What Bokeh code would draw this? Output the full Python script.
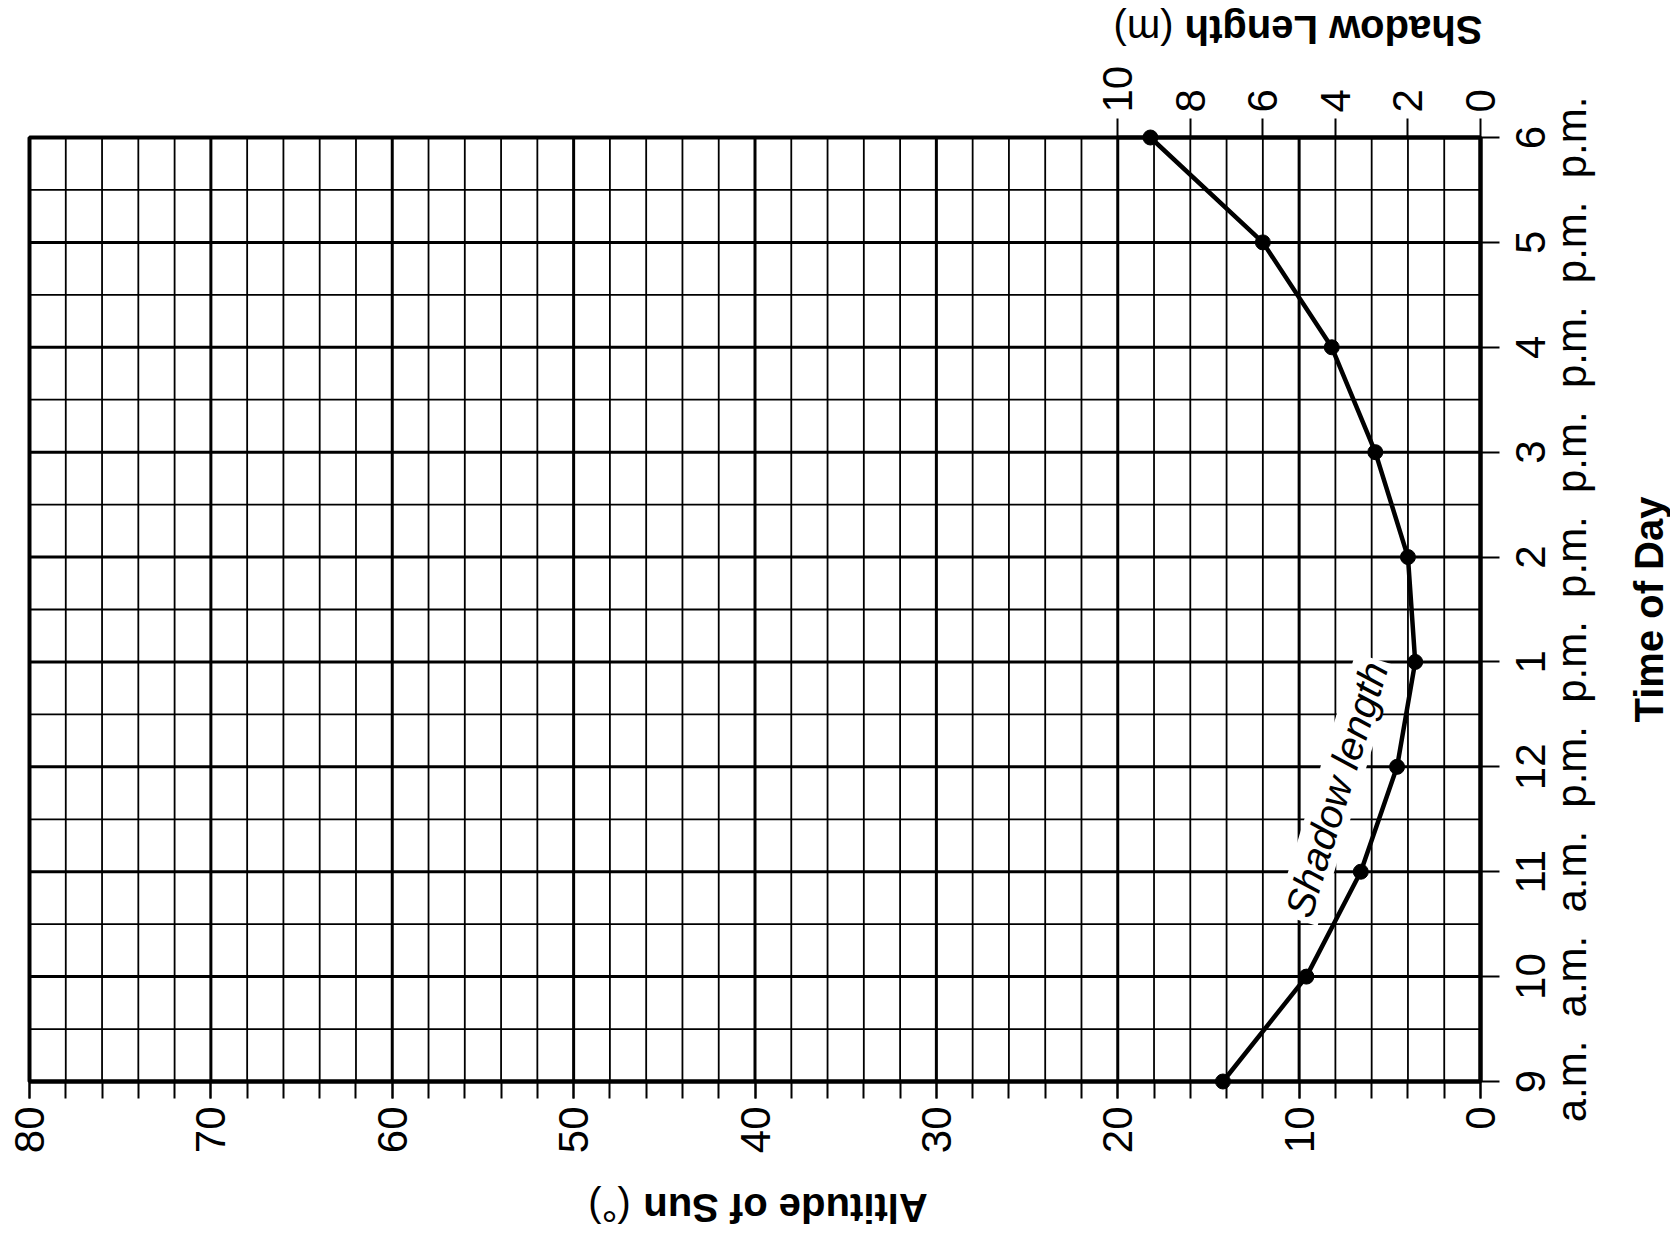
import math
from bokeh.plotting import figure
from bokeh.models import Range1d, LinearAxis, FixedTicker
from bokeh.core.properties import value
from bokeh.embed import file_html
from bokeh.resources import INLINE

# ---------------- data ----------------
hours = [9, 10, 11, 12, 13, 14, 15, 16, 17, 18]
hour_numbers = ["9", "10", "11", "12", "1", "2", "3", "4", "5", "6"]
hour_periods = ["a.m.", "a.m.", "a.m.", "p.m.", "p.m.", "p.m.", "p.m.", "p.m.", "p.m.", "p.m."]
shadow_length = [7.1, 4.8, 3.3, 2.3, 1.8, 2.0, 2.9, 4.1, 6.0, 9.1]
altitude_ticks = [0, 10, 20, 30, 40, 50, 60, 70, 80]
shadow_ticks = [0, 2, 4, 6, 8, 10]

# ---------------- layout constants (pixels) ----------------
FONT = "Liberation Sans"
TICK_FS = "42px"
TITLE_FS = "40px"
W, H = 1670, 1234
LEFT, TOP = 29, 137          # top-left corner of the chart grid
FW, FH = 1451, 944           # grid size
M_PER_DEG = 0.5              # shadow-length scale: 1 m per 2 degrees

A0, A1 = altitude_ticks[0], altitude_ticks[-1]
SX = FW / (A1 - A0)
SY = FH / (hours[-1] - hours[0])


def alt_at(px):
    return A1 - (px - LEFT) / SX


def hour_at(py):
    return hours[-1] - (py - TOP) / SY


p = figure(width=W, height=H,
           x_range=Range1d(alt_at(0), alt_at(W)),
           y_range=Range1d(hour_at(H), hour_at(0)),
           x_axis_location=None, y_axis_location=None, min_border=0,
           output_backend="svg", toolbar_location=None,
           background_fill_color="white", border_fill_color="white")
p.title.visible = False
p.outline_line_color = None
p.grid.visible = False
p.extra_x_ranges = {"shadow": Range1d(alt_at(0) * M_PER_DEG, alt_at(W) * M_PER_DEG)}

# ---------------- grid ----------------
alt_grid = list(range(A0, A1 + 1, 2))
alt_major = [a for a in alt_grid if a in altitude_ticks]
alt_minor = [a for a in alt_grid if a not in altitude_ticks]
hour_grid = [hours[0] + 0.5 * k for k in range(2 * (len(hours) - 1) + 1)]
hour_major = [h for h in hour_grid if h in hours]
hour_minor = [h for h in hour_grid if h not in hours]

p.segment(x0=alt_minor, y0=[hours[0]] * len(alt_minor), x1=alt_minor, y1=[hours[-1]] * len(alt_minor),
          line_color="black", line_width=1.8)
p.segment(x0=[A0] * len(hour_minor), y0=hour_minor, x1=[A1] * len(hour_minor), y1=hour_minor,
          line_color="black", line_width=1.8)
p.segment(x0=alt_major, y0=[hours[0]] * len(alt_major), x1=alt_major, y1=[hours[-1]] * len(alt_major),
          line_color="black", line_width=3)
p.segment(x0=[A0] * len(hour_major), y0=hour_major, x1=[A1] * len(hour_major), y1=hour_major,
          line_color="black", line_width=3)
p.quad(left=[A0], right=[A1], bottom=[hours[0]], top=[hours[-1]],
       fill_color=None, line_color="black", line_width=4)

# ---------------- axes ----------------
xa = LinearAxis(fixed_location=hours[0], bounds=(A0, A1),
                ticker=FixedTicker(ticks=altitude_ticks, minor_ticks=alt_grid))
xa.axis_line_width = 4
xa.major_tick_in = 0
xa.major_tick_out = 17
xa.minor_tick_in = 0
xa.minor_tick_out = 17
xa.major_tick_line_width = 2
xa.minor_tick_line_width = 2
xa.major_label_orientation = math.pi / 2
xa.major_label_standoff = 8
xa.major_label_text_font = FONT
xa.major_label_text_font_size = TICK_FS
xa.major_label_text_color = "black"
p.add_layout(xa, "below")

ta = LinearAxis(x_range_name="shadow", fixed_location=hours[-1],
                bounds=(shadow_ticks[0], shadow_ticks[-1]),
                ticker=FixedTicker(ticks=shadow_ticks, minor_ticks=[]))
ta.axis_line_width = 4
ta.major_tick_in = 0
ta.major_tick_out = 19
ta.minor_tick_in = 0
ta.minor_tick_out = 0
ta.major_tick_line_width = 2
ta.major_label_orientation = math.pi / 2
ta.major_label_standoff = 6
ta.major_label_text_font = FONT
ta.major_label_text_font_size = TICK_FS
ta.major_label_text_color = "black"
p.add_layout(ta, "above")

ya = LinearAxis(fixed_location=A0, bounds=(hours[0], hours[-1]),
                ticker=FixedTicker(ticks=hours, minor_ticks=[]),
                major_label_overrides={h: "" for h in hours})
ya.axis_line_width = 4
ya.major_tick_in = 0
ya.major_tick_out = 19
ya.minor_tick_in = 0
ya.minor_tick_out = 0
ya.major_tick_line_width = 2
ya.major_label_text_font_size = TICK_FS
p.add_layout(ya, "right")

# time-of-day tick labels (two centred lines per tick, rotated like the chart)
p.text(x=[alt_at(1530)] * len(hours), y=hours, text=hour_numbers, angle=math.pi / 2,
       text_font=value(FONT), text_font_size=TICK_FS, text_color="black",
       text_align="center", text_baseline="middle")
p.text(x=[alt_at(1571)] * len(hours), y=hours, text=hour_periods, angle=math.pi / 2,
       text_font=value(FONT), text_font_size=TICK_FS, text_color="black",
       text_align="center", text_baseline="middle")


# ---------------- titles ----------------
def txt(px, py, s, angle, style, size=TITLE_FS):
    p.text(x=[alt_at(px)], y=[hour_at(py)], text=[s], angle=angle,
           text_font=value(FONT), text_font_size=size, text_font_style=style,
           text_color="black", text_align="center", text_baseline="middle")


txt(1333, 29, "Shadow Length", math.pi, "bold")
txt(1143, 29, "(m)", math.pi, "normal")
txt(785, 1207, "Altitude of Sun", math.pi, "bold")
txt(609, 1207, "(°)", math.pi, "normal")
txt(1648, TOP + FH / 2, "Time of Day", math.pi / 2, "bold")

# ---------------- curve label ----------------
NOTE_ANGLE = 1.272
p.rect(x=[alt_at(1336)], y=[hour_at(789)], width=272, height=44, angle=NOTE_ANGLE,
       width_units="screen", height_units="screen", fill_color="white", line_color=None)
txt(1336, 789, "Shadow length", NOTE_ANGLE, "italic")

# ---------------- data ----------------
p.line(shadow_length, hours, x_range_name="shadow", line_color="black", line_width=4.5)
p.scatter(shadow_length, hours, x_range_name="shadow", size=15, color="black")

open("out.html", "w").write(file_html(p, INLINE))
